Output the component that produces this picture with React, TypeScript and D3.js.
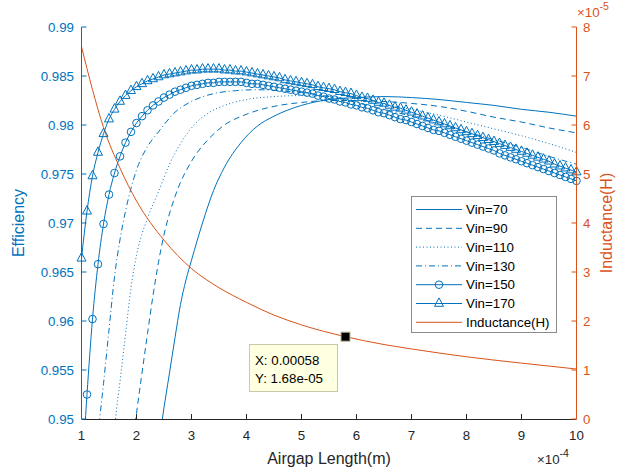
import React from 'react';
import * as d3 from 'd3';

// x values are in units of 1e-4 m, inductance in units of 1e-5 H
const markerX = [
  1.0, 1.1, 1.2, 1.3, 1.4, 1.5, 1.6, 1.7, 1.8, 1.9, 2.0, 2.1, 2.2, 2.3, 2.4, 2.5, 2.6, 2.7, 2.8, 2.9,
  3.0, 3.1, 3.2, 3.3, 3.4, 3.5, 3.6, 3.7, 3.8, 3.9, 4.0, 4.1, 4.2, 4.3, 4.4, 4.5, 4.6, 4.7, 4.8, 4.9,
  5.0, 5.1, 5.2, 5.3, 5.4, 5.5, 5.6, 5.7, 5.8, 5.9, 6.0, 6.1, 6.2, 6.3, 6.4, 6.5, 6.6, 6.7, 6.8, 6.9,
  7.0, 7.1, 7.2, 7.3, 7.4, 7.5, 7.6, 7.7, 7.8, 7.9, 8.0, 8.1, 8.2, 8.3, 8.4, 8.5, 8.6, 8.7, 8.8, 8.9,
  9.0, 9.1, 9.2, 9.3, 9.4, 9.5, 9.6, 9.7, 9.8, 9.9, 10.0,
];

const vin150 = [
  0.9435, 0.9525, 0.9602, 0.9658, 0.9699, 0.9729, 0.9751, 0.9768, 0.9782, 0.9793, 0.9802, 0.9809, 0.9815, 0.9820, 0.9824, 0.9828, 0.9831, 0.9834, 0.9836, 0.9838,
  0.9840, 0.9841, 0.9842, 0.9843, 0.9843, 0.9844, 0.9844, 0.9844, 0.9844, 0.9844, 0.9843, 0.9842, 0.9842, 0.9841, 0.9840, 0.9839, 0.9838, 0.9837, 0.9836, 0.9835,
  0.9834, 0.9833, 0.9832, 0.9830, 0.9829, 0.9827, 0.9826, 0.9824, 0.9823, 0.9821, 0.9820, 0.9818, 0.9817, 0.9815, 0.9813, 0.9812, 0.9810, 0.9808, 0.9806, 0.9805,
  0.9803, 0.9801, 0.9799, 0.9797, 0.9795, 0.9794, 0.9792, 0.9790, 0.9788, 0.9786, 0.9784, 0.9782, 0.9780, 0.9778, 0.9776, 0.9774, 0.9771, 0.9769, 0.9767, 0.9765,
  0.9763, 0.9761, 0.9759, 0.9757, 0.9755, 0.9753, 0.9751, 0.9749, 0.9747, 0.9745, 0.9743,
];

const vin170 = [
  0.9664, 0.9712, 0.9748, 0.9772, 0.9791, 0.9806, 0.9816, 0.9824, 0.9830, 0.9835, 0.9839, 0.9842, 0.9845, 0.9847, 0.9849, 0.9851, 0.9852, 0.9853, 0.9854, 0.9855,
  0.9856, 0.9856, 0.9857, 0.9857, 0.9857, 0.9857, 0.9856, 0.9856, 0.9855, 0.9855, 0.9854, 0.9853, 0.9852, 0.9851, 0.9850, 0.9849, 0.9848, 0.9846, 0.9845, 0.9844,
  0.9843, 0.9842, 0.9841, 0.9839, 0.9838, 0.9837, 0.9836, 0.9834, 0.9833, 0.9832, 0.9830, 0.9828, 0.9827, 0.9825, 0.9823, 0.9822, 0.9820, 0.9818, 0.9817, 0.9815,
  0.9813, 0.9811, 0.9809, 0.9807, 0.9805, 0.9803, 0.9801, 0.9799, 0.9797, 0.9795, 0.9793, 0.9791, 0.9789, 0.9787, 0.9785, 0.9783, 0.9781, 0.9779, 0.9777, 0.9775,
  0.9773, 0.9771, 0.9769, 0.9767, 0.9765, 0.9763, 0.9760, 0.9758, 0.9756, 0.9754, 0.9752,
];

const vin70X = [2.4, 2.47, 2.6, 2.7, 2.8, 2.9, 3.0, 3.2, 3.4, 3.6, 3.9, 4.2, 4.5, 5.0, 5.5, 6.0, 6.5, 7.0, 7.5, 8.0, 8.5, 9.0, 9.5, 10];
const vin70 = [0.947, 0.95, 0.9547, 0.9583, 0.9617, 0.9642, 0.9662, 0.97, 0.9733, 0.9757, 0.9782, 0.9799, 0.9809, 0.982, 0.9826, 0.9828, 0.9829, 0.9828, 0.9826, 0.9823, 0.982, 0.9816, 0.9813, 0.9809];

const vin90X = [1.9, 2.0, 2.1, 2.2, 2.3, 2.4, 2.5, 2.7, 3.0, 3.3, 3.6, 4.0, 4.5, 5.0, 5.5, 6.0, 6.5, 7.0, 7.5, 8.0, 8.5, 9.0, 9.5, 10];
const vin90 = [0.9465, 0.9506, 0.9547, 0.9587, 0.9626, 0.966, 0.9688, 0.9727, 0.9763, 0.9785, 0.98, 0.9811, 0.9819, 0.9823, 0.9825, 0.9825, 0.9824, 0.9822, 0.9819, 0.9814, 0.9808, 0.9803, 0.9797, 0.9792];

const vin110X = [1.55, 1.62, 1.7, 1.8, 1.9, 2.0, 2.2, 2.4, 2.6, 2.8, 3.0, 3.3, 3.6, 4.0, 4.5, 5.0, 5.5, 6.0, 6.5, 7.0, 7.5, 8.0, 8.5, 9.0, 9.5, 10];
const vin110 = [0.9443, 0.95, 0.9538, 0.9586, 0.9634, 0.9667, 0.9705, 0.9732, 0.976, 0.9781, 0.9797, 0.9812, 0.982, 0.9826, 0.9829, 0.983, 0.9829, 0.9825, 0.9821, 0.9816, 0.981, 0.9803, 0.9796, 0.9789, 0.9781, 0.9772];

const vin130X = [1.25, 1.33, 1.4, 1.5, 1.6, 1.7, 1.8, 2.0, 2.2, 2.4, 2.7, 3.0, 3.4, 3.8, 4.2, 4.6, 5.0, 5.5, 6.0, 6.5, 7.0, 7.5, 8.0, 8.5, 9.0, 9.5, 10];
const vin130 = [0.9455, 0.95, 0.9536, 0.9591, 0.9645, 0.9683, 0.9712, 0.9754, 0.9778, 0.9793, 0.9813, 0.9824, 0.9832, 0.9835, 0.9836, 0.9835, 0.9833, 0.9829, 0.9823, 0.9816, 0.9809, 0.9801, 0.9793, 0.9785, 0.9777, 0.9768, 0.976];

const indX = [1.0, 1.2, 1.4, 1.7, 2.0, 2.5, 3.0, 3.5, 4.0, 4.5, 5.0, 5.8, 6.5, 7.0, 8.0, 9.0, 10];
const inductance = [7.6, 6.72, 5.95, 5.12, 4.45, 3.65, 3.07, 2.68, 2.38, 2.12, 1.92, 1.68, 1.52, 1.43, 1.27, 1.14, 1.02];

const leftTicks = ['0.95', '0.955', '0.96', '0.965', '0.97', '0.975', '0.98', '0.985', '0.99'];
const rightTicks = ['0', '1', '2', '3', '4', '5', '6', '7', '8'];
const xTicks = ['1', '2', '3', '4', '5', '6', '7', '8', '9', '10'];
const legendNames = ['Vin=70', 'Vin=90', 'Vin=110', 'Vin=130', 'Vin=150', 'Vin=170', 'Inductance(H)'];

const tipX = 5.8;
const tipY = 1.68;

const BLUE = '#0072BD';
const ORANGE = '#D95319';
const DARK = '#262626';
const FONT = '"Liberation Sans", Arial, Helvetica, sans-serif';

const L = 81.5, R = 576.5, T = 27, B = 419;

export default function App() {
  const x = d3.scaleLinear().domain([1, 10]).range([L, R]);
  const yL = d3.scaleLinear().domain([0.95, 0.99]).range([B, T]);
  const yR = d3.scaleLinear().domain([0, 8]).range([B, T]);

  const lineL = (xs: number[], ys: number[]) =>
    d3.line<number>().x((_, i) => x(xs[i])).y(d => yL(d)).curve(d3.curveMonotoneX)(ys) || '';
  const lineR = d3.line<number>().x((_, i) => x(indX[i])).y(d => yR(d)).curve(d3.curveMonotoneX)(inductance) || '';

  const series = [
    { xs: vin70X, ys: vin70, dash: undefined as string | undefined, marker: '' },
    { xs: vin90X, ys: vin90, dash: '6,4', marker: '' },
    { xs: vin110X, ys: vin110, dash: '1,2.5', marker: '' },
    { xs: vin130X, ys: vin130, dash: '6,3,1,3', marker: '' },
    { xs: markerX, ys: vin150, dash: undefined, marker: 'o' },
    { xs: markerX, ys: vin170, dash: undefined, marker: '^' },
  ];

  const tri = 'M0,-5.6L4.5,2.8L-4.5,2.8Z';

  const markerEl = (m: string, cx: number, cy: number, key: any) =>
    m === 'o' ? (
      <circle key={key} cx={cx} cy={cy} r={3.8} fill="none" stroke={BLUE} strokeWidth={1} />
    ) : (
      <path key={key} d={tri} transform={`translate(${cx},${cy})`} fill="none" stroke={BLUE} strokeWidth={1} />
    );

  const legX = 411.5, legY = 196.5, legW = 145, legH = 136;
  const rowY = (i: number) => 209.5 + i * 18.8;

  return (
    <svg width={636} height={474} style={{ position: 'absolute', left: 0, top: 0, background: '#fff' }} fontFamily={FONT}>
      <defs>
        <clipPath id="plot">
          <rect x={L} y={T} width={R - L} height={B - T} />
        </clipPath>
      </defs>

      {/* efficiency lines */}
      <g clipPath="url(#plot)">
        {series.map((s, i) => (
          <path key={i} d={lineL(s.xs, s.ys)} fill="none" stroke={BLUE} strokeWidth={1} strokeDasharray={s.dash} />
        ))}
        <path d={lineR} fill="none" stroke={ORANGE} strokeWidth={1} />
      </g>
      {/* markers */}
      {series.filter(s => s.marker).map((s, si) => (
        <g key={si}>
          {s.ys.map((v, i) => (v >= 0.95 && v <= 0.99 ? markerEl(s.marker, x(s.xs[i]), yL(v), i) : null))}
        </g>
      ))}

      {/* bottom axis */}
      <line x1={L} x2={R} y1={B + 0.5} y2={B + 0.5} stroke={DARK} strokeWidth={1} />
      {xTicks.map(t => (
        <g key={t}>
          <line x1={x(+t)} x2={x(+t)} y1={B} y2={B - 5} stroke={DARK} strokeWidth={1} />
          <text x={x(+t)} y={440} textAnchor="middle" fontSize={13.3} fill={DARK}>{t}</text>
        </g>
      ))}
      <text x={(L + R) / 2} y={464} textAnchor="middle" fontSize={16} fill={DARK}>Airgap Length(m)</text>
      <text x={537} y={464} fontSize={13.3} fill={DARK}>
        ×10<tspan dy={-7} fontSize={10.5}>-4</tspan>
      </text>

      {/* left axis */}
      <line x1={L} x2={L} y1={T} y2={B} stroke={BLUE} strokeWidth={1} />
      {leftTicks.map(t => (
        <g key={t}>
          <line x1={L} x2={L + 5} y1={yL(+t)} y2={yL(+t)} stroke={BLUE} strokeWidth={1} />
          <text x={74} y={yL(+t)} dy="0.35em" textAnchor="end" fontSize={13.3} fill={BLUE}>{t}</text>
        </g>
      ))}
      <text transform={`translate(24,${(T + B) / 2}) rotate(-90)`} textAnchor="middle" fontSize={16} fill={BLUE}>Efficiency</text>

      {/* right axis */}
      <line x1={R} x2={R} y1={T} y2={B} stroke={ORANGE} strokeWidth={1} />
      {rightTicks.map(t => (
        <g key={t}>
          <line x1={R} x2={R - 5} y1={yR(+t)} y2={yR(+t)} stroke={ORANGE} strokeWidth={1} />
          <text x={583} y={yR(+t)} dy="0.35em" fontSize={13.3} fill={ORANGE}>{t}</text>
        </g>
      ))}
      <text transform={`translate(612,${(T + B) / 2}) rotate(-90)`} textAnchor="middle" fontSize={16} fill={ORANGE}>Inductance(H)</text>
      <text x={577} y={17} fontSize={13.3} fill={ORANGE}>
        ×10<tspan dy={-7} fontSize={10.5}>-5</tspan>
      </text>

      {/* legend */}
      <rect x={legX} y={legY} width={legW} height={legH} fill="#fff" stroke="#8a8a8a" strokeWidth={1} />
      {legendNames.map((name, i) => {
        const s = series[i];
        const cy = rowY(i);
        return (
          <g key={name}>
            <line x1={416} x2={462} y1={cy} y2={cy} stroke={i === 6 ? ORANGE : BLUE} strokeWidth={1} strokeDasharray={s ? s.dash : undefined} />
            {s && s.marker ? markerEl(s.marker, 439, cy, 'm') : null}
            <text x={466} y={cy} dy="0.35em" fontSize={13.3} fill="#000">{name}</text>
          </g>
        );
      })}

      {/* data tip */}
      <rect x={249.5} y={344.5} width={88} height={47} fill="#ffffe1" stroke="#c9c9a8" strokeWidth={1} />
      <text x={255} y={365} fontSize={13.3} fill="#000">X: 0.00058</text>
      <text x={255} y={383} fontSize={13.3} fill="#000">Y: 1.68e-05</text>
      <rect x={x(tipX) - 4.5} y={yR(tipY) - 4.5} width={9} height={9} fill="#000" stroke="#b8b894" strokeWidth={1} />
    </svg>
  );
}
